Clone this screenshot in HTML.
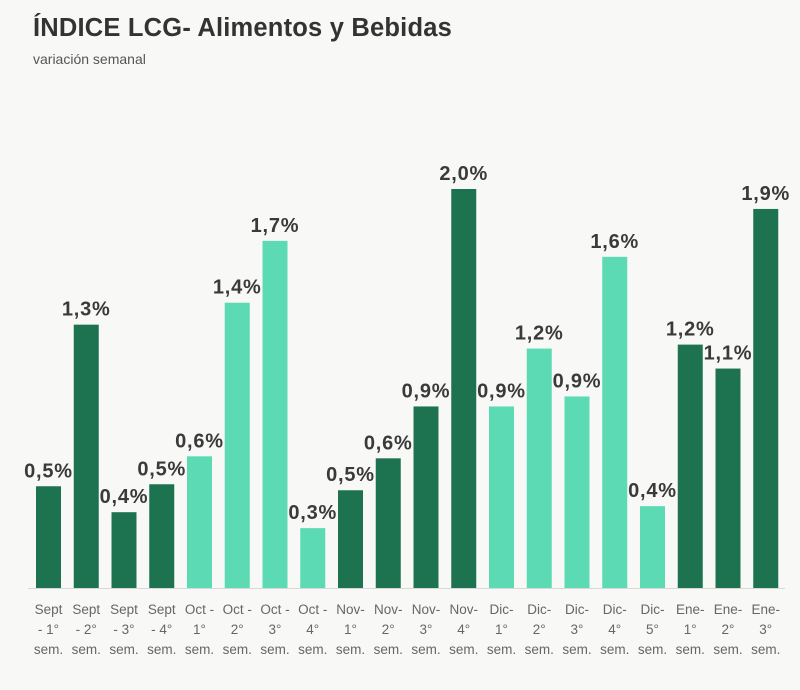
<!DOCTYPE html>
<html><head><meta charset="utf-8"><style>
body{margin:0;background:#f8f8f6;font-family:"Liberation Sans",sans-serif;}
#wrap{position:relative;width:800px;height:690px;overflow:hidden;}
h1{position:absolute;left:33px;top:14px;margin:0;font-size:25.5px;font-weight:bold;color:#333;letter-spacing:0.2px;}
.sub{position:absolute;left:33px;top:51px;font-size:14px;color:#555;}
</style></head><body>
<div id="wrap">
<h1>ÍNDICE LCG- Alimentos y Bebidas</h1>
<div class="sub">variación semanal</div>
<svg id="chart" width="800" height="690" style="position:absolute;left:0;top:0"></svg>
</div>
<script>
const categories=[["Sept","- 1°"],["Sept","- 2°"],["Sept","- 3°"],["Sept","- 4°"],["Oct -","1°"],["Oct -","2°"],["Oct -","3°"],["Oct -","4°"],["Nov-","1°"],["Nov-","2°"],["Nov-","3°"],["Nov-","4°"],["Dic-","1°"],["Dic-","2°"],["Dic-","3°"],["Dic-","4°"],["Dic-","5°"],["Ene-","1°"],["Ene-","2°"],["Ene-","3°"]];
const values=[0.51,1.32,0.38,0.52,0.66,1.43,1.74,0.30,0.49,0.65,0.91,2.0,0.91,1.20,0.96,1.66,0.41,1.22,1.10,1.90];
const valueLabels=["0,5%","1,3%","0,4%","0,5%","0,6%","1,4%","1,7%","0,3%","0,5%","0,6%","0,9%","2,0%","0,9%","1,2%","0,9%","1,6%","0,4%","1,2%","1,1%","1,9%"];
const groups=["d","d","d","d","l","l","l","l","d","d","d","d","l","l","l","l","l","d","d","d"];
const NS="http://www.w3.org/2000/svg";
const svg=document.getElementById('chart');
const base=588, scale=199.5, x0=48.5, step=37.75, bw=25;
const xPos=i=>x0+i*step;
const yPos=v=>base-v*scale;
function mk(t,a){const e=document.createElementNS(NS,t);for(const k in a)e.setAttribute(k,a[k]);svg.appendChild(e);return e;}
const ax=mk('line',{x1:28,x2:785,y1:base+0.5,y2:base+0.5,stroke:'#d8d8d8','stroke-width':1});


values.forEach((v,i)=>{
  const cx=xPos(i);
  const r=mk('rect',{x:cx-bw/2,y:yPos(v),width:bw,height:base-yPos(v),fill:groups[i]==='d'?'#1d7350':'#5bdab4'});
  
  
  const t=mk('text',{x:cx,y:yPos(v)-9,'text-anchor':'middle','font-size':20,'font-weight':'bold',fill:'#3a3a3a','letter-spacing':'0.8'});
  t.textContent=valueLabels[i];
  
  
  const c=categories[i];
  [c[0],c[1],"sem."].forEach((s,j)=>{
    const l=mk('text',{x:cx,y:614+j*20,'text-anchor':'middle','font-size':13.5,fill:'#666'});
    l.textContent=s;
    
    
  });
});
</script>
</body></html>
